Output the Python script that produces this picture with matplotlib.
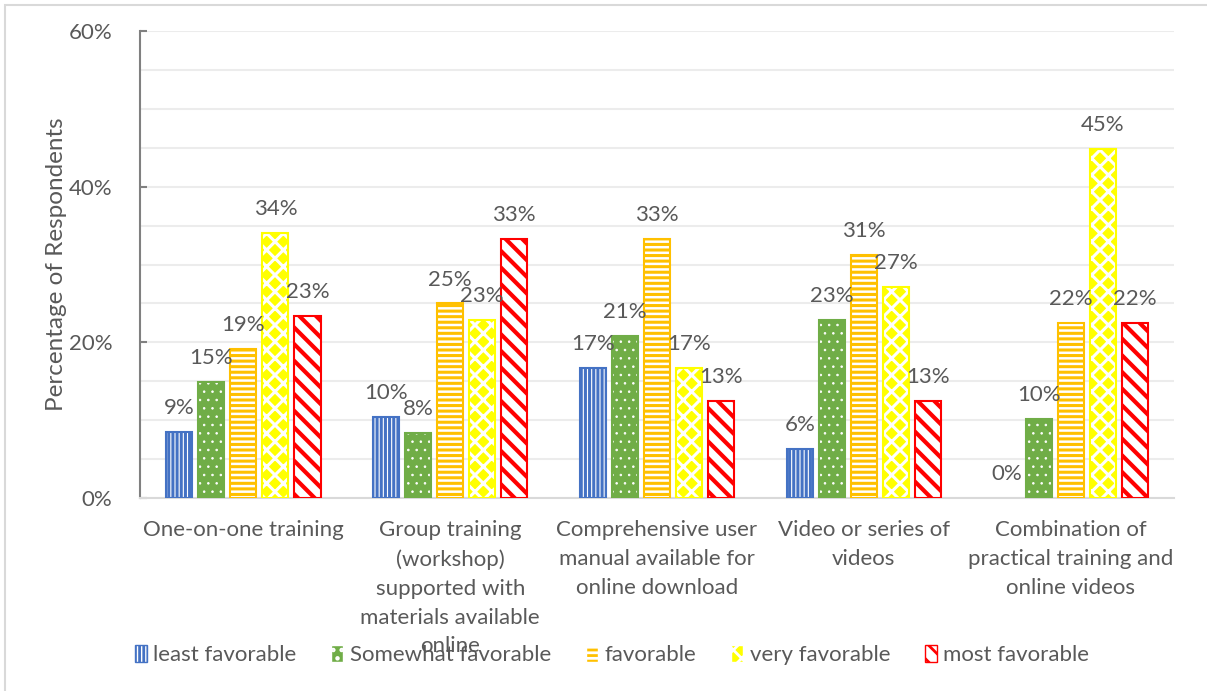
import matplotlib
matplotlib.use("Agg")
import matplotlib.pyplot as plt
import numpy as np
from matplotlib.patches import Patch, Rectangle
from matplotlib.ticker import MultipleLocator, PercentFormatter

# --- datos (porcentaje de encuestados) ---
categorias = [
    "One-on-one training",
    "Group training\n(workshop)\nsupported with\nmaterials available\nonline",
    "Comprehensive user\nmanual available for\nonline download",
    "Video or series of\nvideos",
    "Combination of\npractical training and\nonline videos",
]
series = ["least favorable", "Somewhat favorable", "favorable",
          "very favorable", "most favorable"]
least_fav = [8.51, 10.42, 16.67, 6.25, 0.0]
somewhat_fav = [14.89, 8.33, 20.83, 22.92, 10.20]
fav = [19.15, 25.0, 33.33, 31.25, 22.45]
very_fav = [34.04, 22.92, 16.67, 27.08, 44.90]
most_fav = [23.40, 33.33, 12.5, 12.5, 22.45]
valores = [least_fav, somewhat_fav, fav, very_fav, most_fav]

colores = ["#4472C4", "#70AD47", "#FFC000", "#FFFF00", "#FF0000"]
# (relleno, color de trama, trama, grosor de trama)
estilos = [
    ("white", "#4472C4", "||||", 2.2),
    ("#70AD47", "white", "..", 0.6),
    ("#FFC000", "white", "---", 1.8),
    ("#FFFF00", "white", "xx", 2.2),
    ("white", "#FF0000", "\\\\", 3.0),
]

GRIS = "#595959"
FS = 16
plt.rcParams["font.family"] = ["Lato", "DejaVu Sans"]
plt.rcParams["hatch.linewidth"] = 2.0

def redondear(v):
    # Excel redondea la mitad hacia arriba
    return int(v + 0.5)

fig = plt.figure(figsize=(12.07, 6.91), dpi=100)
ax = fig.add_axes([140/1207, 1-498/691, (1174-140)/1207, (498-31)/691])

x = np.arange(len(categorias))
paso, ancho = 0.155, 0.126
for i, (vals, col, (fc, hc, h, hlw)) in enumerate(zip(valores, colores, estilos)):
    pos = x + (i-2)*paso
    barras = ax.bar(pos, vals, ancho, color=fc, edgecolor=hc, hatch=h, linewidth=0, zorder=3)
    for b in barras:
        if hasattr(b, "set_hatch_linewidth"):
            b.set_hatch_linewidth(hlw)
    lws = [1.5 if v > 0 else 0 for v in vals]
    ax.bar(pos, vals, ancho, fill=False, edgecolor=col, linewidth=lws, zorder=4)
    for p, v in zip(pos, vals):
        ax.annotate(f"{redondear(v)}%", (p, v), xytext=(0, 10), textcoords="offset points",
                    ha="center", va="bottom", fontsize=FS, color=GRIS, zorder=5)

ax.set_xlim(-0.5, len(categorias)-0.5)
ax.set_ylim(0, 60)
ax.yaxis.set_major_locator(MultipleLocator(20))
ax.yaxis.set_minor_locator(MultipleLocator(5))
ax.yaxis.set_major_formatter(PercentFormatter(decimals=0))
ax.grid(True, which="both", axis="y", color="#ececec", linewidth=1.5, zorder=0)
ax.set_xticks(x)
ax.set_xticklabels(categorias, fontsize=FS, color=GRIS, linespacing=1.55, va="top")
ax.tick_params(axis="x", length=0, pad=16)
ax.tick_params(axis="y", which="major", direction="in", length=5, width=1.5,
               color="#808080", labelsize=FS, labelcolor=GRIS, pad=20)
ax.tick_params(axis="y", which="minor", length=0)
for s in ["top", "right"]:
    ax.spines[s].set_visible(False)
ax.spines["left"].set_color("#808080")
ax.spines["left"].set_linewidth(1.5)
ax.spines["bottom"].set_color("#d9d9d9")
ax.spines["bottom"].set_linewidth(1.5)
ax.set_ylabel("Percentage of Respondents", fontsize=17.5, color=GRIS, labelpad=1)

handles = [Patch(facecolor=fc, edgecolor=hc, hatch=h) for fc, hc, h, _ in estilos]
leg = fig.legend(handles, series, loc="center", bbox_to_anchor=(612/1207, 1-655/691),
                 ncol=5, frameon=False, fontsize=16, handlelength=0.55, handleheight=0.8,
                 handletextpad=0.3, columnspacing=1.55)
for t in leg.get_texts():
    t.set_color(GRIS)

# borde gris claro del gráfico
fig.patches.append(Rectangle((5/1207, -0.1), 1.2, 1.1-5/691, transform=fig.transFigure,
                             fill=False, edgecolor="#d9d9d9", linewidth=1.5))

fig.savefig("out.png", dpi=100)
